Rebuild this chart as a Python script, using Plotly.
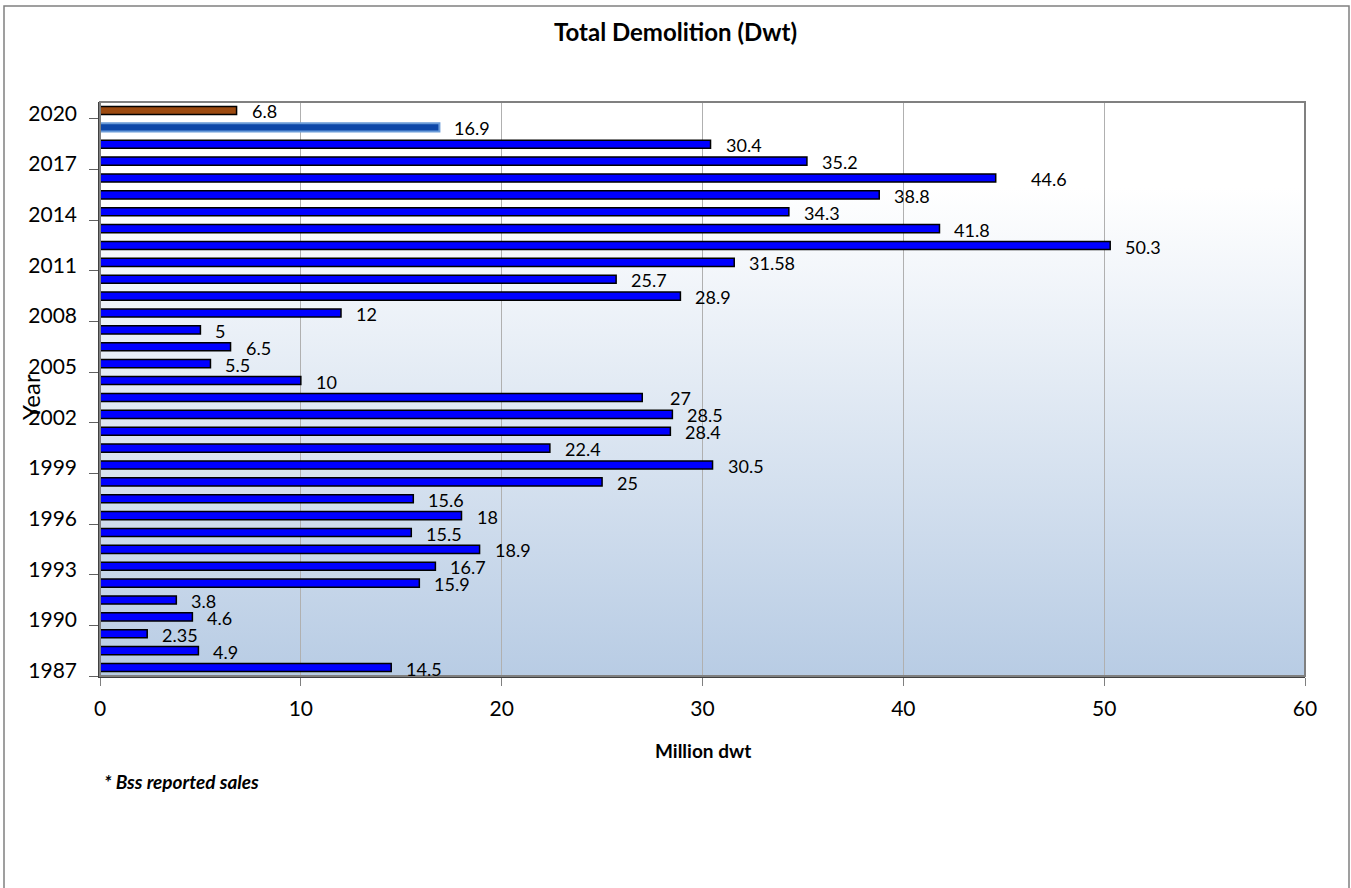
import base64
import plotly.graph_objects as go

# ---- data ----
years = list(range(1987, 2021))
values = [14.5, 4.9, 2.35, 4.6, 3.8, 15.9, 16.7, 18.9, 15.5, 18, 15.6, 25, 30.5, 22.4,
          28.4, 28.5, 27, 10, 5.5, 6.5, 5, 12, 28.9, 25.7, 31.58, 50.3, 41.8, 34.3,
          38.8, 44.6, 35.2, 30.4, 16.9, 6.8]
labels = ["14.5", "4.9", "2.35", "4.6", "3.8", "15.9", "16.7", "18.9", "15.5", "18", "15.6",
          "25", "30.5", "22.4", "28.4", "28.5", "27", "10", "5.5", "6.5", "5", "12", "28.9",
          "25.7", "31.58", "50.3", "41.8", "34.3", "38.8", "44.6", "35.2", "30.4", "16.9", "6.8"]
x_ticks = [0, 10, 20, 30, 40, 50, 60]
tick_years = years[::3]

# ---- styles ----
FONT = "Lato, 'Open Sans', sans-serif"
fill_colors = []
line_colors = []
line_widths = []
for y in years:
    if y == 2020:
        fill_colors.append("#9C4A10"); line_colors.append("#000000"); line_widths.append(1.5)
    elif y == 2019:
        fill_colors.append("#0D47A8"); line_colors.append("#6A9BD8"); line_widths.append(2)
    else:
        fill_colors.append("#0000FF"); line_colors.append("#000000"); line_widths.append(1.5)

# small manual label nudges (pixels), as in the original layout
label_nudge = {2016: 20, 2003: 13}

fig = go.Figure()
fig.add_trace(go.Bar(
    x=values, y=years, orientation="h", width=0.48,
    marker=dict(color=fill_colors, line=dict(color=line_colors, width=line_widths)),
    hoverinfo="x+y", showlegend=False,
))

annotations = []
for y, v, t in zip(years, values, labels):
    annotations.append(dict(
        x=v, y=y, xref="x", yref="y", text=t, showarrow=False,
        xanchor="left", yanchor="middle", xshift=13 + label_nudge.get(y, 0), yshift=-1,
        font=dict(family=FONT, size=18, color="#000000"),
    ))

annotations.append(dict(
    x=(703 - 100) / 1205, y=(676 - 750) / 574, xref="paper", yref="paper",
    text="<b>Million dwt</b>", showarrow=False, xanchor="center", yanchor="middle",
    font=dict(family=FONT, size=19, color="#000000"),
))
annotations.append(dict(
    x=(30 - 100) / 1205, y=(676 - 397) / 574, xref="paper", yref="paper",
    text="Year", textangle=-90, showarrow=False, xanchor="center", yanchor="middle",
    font=dict(family=FONT, size=24, color="#000000"),
))
annotations.append(dict(
    x=(102 - 100) / 1205, y=(676 - 781) / 574, xref="paper", yref="paper",
    text="<b><i>* Bss reported sales</i></b>", showarrow=False, xanchor="left", yanchor="middle",
    font=dict(family=FONT, size=19, color="#000000"),
))

svg = ('<svg xmlns="http://www.w3.org/2000/svg" width="100" height="100" preserveAspectRatio="none">'
       '<defs><linearGradient id="g" x1="0" y1="0" x2="0" y2="1">'
       '<stop offset="0" stop-color="#FFFFFF"/><stop offset="0.15" stop-color="#FFFFFF"/>'
       '<stop offset="1" stop-color="#B8CCE4"/></linearGradient></defs>'
       '<rect width="100" height="100" fill="url(#g)"/></svg>')
svg_uri = "data:image/svg+xml;base64," + base64.b64encode(svg.encode()).decode()

fig.update_layout(
    width=1351, height=888,
    margin=dict(l=100, r=46, t=102, b=212),
    paper_bgcolor="#FFFFFF", plot_bgcolor="rgba(0,0,0,0)",
    bargap=0.5,
    title=dict(text="<b>Total Demolition (Dwt)</b>", x=0.5, xanchor="center",
               y=1 - 33 / 888, yanchor="middle", font=dict(family=FONT, size=24, color="#000000")),
    annotations=annotations,
    images=[dict(source=svg_uri, xref="x domain", yref="y domain", x=0, y=1, sizex=1, sizey=1,
                 sizing="stretch", xanchor="left", yanchor="top", layer="below")],
    shapes=[
        dict(type="rect", xref="x domain", yref="y domain", x0=0, x1=1, y0=0, y1=1,
             line=dict(color="#808080", width=2), layer="above"),
        dict(type="rect", xref="paper", yref="paper",
             x0=(4 - 100) / 1205, x1=(1349 - 100) / 1205,
             y0=(676 - 895) / 574, y1=(676 - 6) / 574,
             line=dict(color="#808080", width=1.5), layer="above"),
    ],
    xaxis=dict(
        range=[0, 60], tickvals=x_ticks, ticktext=[str(v) for v in x_ticks],
        showgrid=True, gridcolor="#B0B0B0", gridwidth=1,
        ticks="outside", ticklen=8, tickcolor="#808080", ticklabelstandoff=5,
        showline=True, linecolor="#404040", linewidth=1.5,
        zeroline=False,
        tickfont=dict(family=FONT, size=21, color="#000000"),
    ),
    yaxis=dict(
        range=[1986.5, 2020.5], tickmode="array", tickvals=tick_years,
        ticktext=[str(v) for v in tick_years],
        ticks="", ticklabelstandoff=17, ticklabelshift=3,
        showgrid=False, zeroline=False,
        showline=True, linecolor="#404040", linewidth=1.5,
        minor=dict(ticks="outside", ticklen=9, tickcolor="#606060", tick0=1986.5, dtick=3, showgrid=False),
        tickfont=dict(family=FONT, size=21, color="#000000"),
    ),
)

fig.write_html("out.html", config={"displayModeBar": False},
               post_script="document.body.style.margin='0px';")
